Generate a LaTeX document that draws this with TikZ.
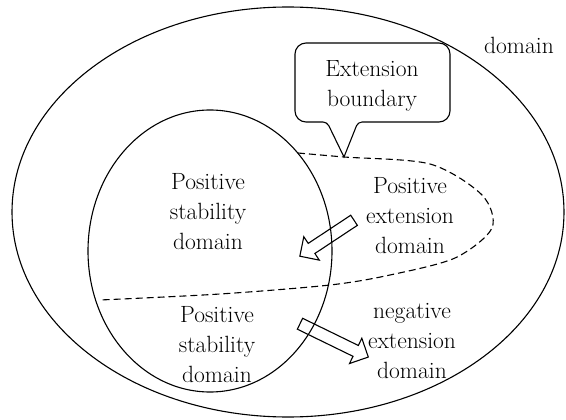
\documentclass[tikz,border=0pt]{standalone}
\usetikzlibrary{shapes.arrows}
\tikzset{
  lbl/.style={align=center,font=\fontsize{23.5}{30}\selectfont,inner sep=0pt},
  blockarrow/.style={single arrow,draw,line width=1.1pt,inner xsep=0pt,
    inner ysep=5.5pt,single arrow head extend=8pt}
}

\begin{document}
\begin{tikzpicture}[x=1pt,y=-1pt,line width=1.1pt]
    \useasboundingbox (0,0) rectangle (566,420);
    % outer domain and stability circle
    \draw (288,212) ellipse [x radius=276, y radius=205];
    \draw (210,251) ellipse [x radius=122, y radius=141];
    \node[lbl] (dom) at (519,45) {domain};

    % extension boundary
    \coordinate (eb0) at (298,153);
    \coordinate (ebtip) at (344,157);
    \coordinate (eb1) at (100,300);
    \draw[dash pattern=on 7pt off 4pt] plot [smooth] coordinates
      {(eb0) (ebtip) (430,164) (482,195) (492,228) (455,258) (390,275)
      (330,285) (220,294) (eb1)};

    % callout
    \node[lbl] (extb) at (372,86) {Extension\\boundary};
    \draw (ebtip) [rounded corners=4pt] -- (358,122) [rounded corners=11pt]
      -- (450,122) -- (450,43) -- (295,43) -- (295,122)
      [rounded corners=4pt] -- (327,122) [sharp corners] -- cycle;

    \node[lbl] (psd) at (208,212) {Positive\\stability\\domain};
    \node[lbl] (ped) at (410,216) {Positive\\extension\\domain};
    \node[lbl] (psd2) at (217,345) {Positive\\stability\\domain};
    \node[lbl] (ned) at (412,341) {negative\\extension\\domain};

    % block arrows
    \node[blockarrow,minimum height=65pt,rotate=213.5,anchor=tail]
      (a1) at (354.5,220) {};
    \node[blockarrow,minimum height=76pt,rotate=-26,anchor=tail]
      (a2) at (299.5,323.5) {};
\end{tikzpicture}
\end{document}
